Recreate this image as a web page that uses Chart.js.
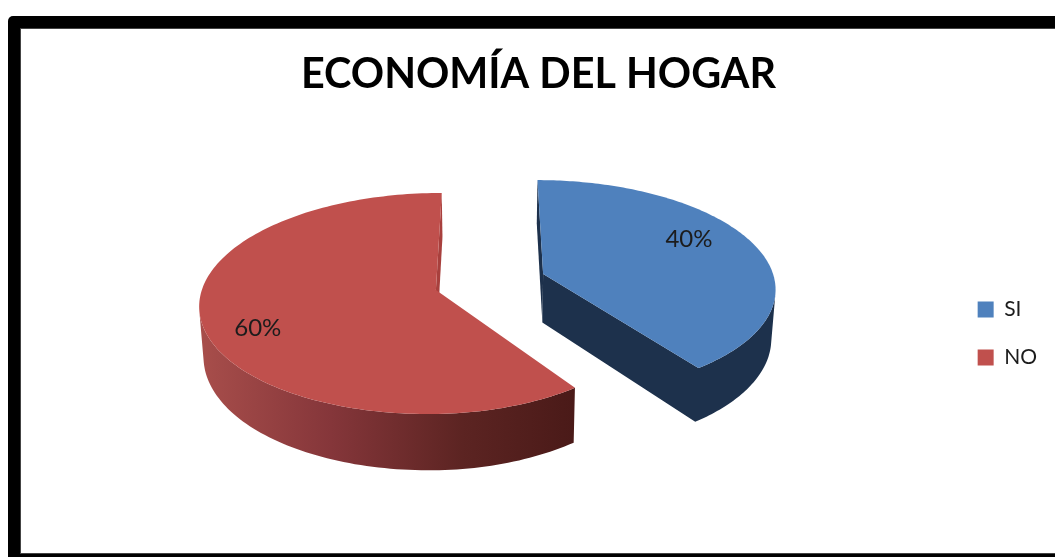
<!DOCTYPE html>
<html>
<head>
<meta charset="utf-8">
<style>html,body{margin:0;padding:0;background:#fff}canvas{display:block;filter:blur(0.45px)}</style>
<script src="https://cdn.jsdelivr.net/npm/chart.js@4"></script>
</head>
<body>
<canvas id="c" width="1055" height="557"></canvas>
<script>
const categories = ['SI', 'NO'];
const seriesValues = [40, 60];
const titleText = 'ECONOMÍA DEL HOGAR';
const topColors = ['#4f81bd', '#c0504d'];

const camera = {cx: 490, cy: 282, a: 232, b: 107, k: 0.12, depth: 49, shrink: 0.985, explode: 0.243, frontSquash: [1, 0.95]};
const project = (X, Y) => {
  const w = 1 - camera.k * Y;
  return {x: camera.cx + camera.a * X / w, y: camera.cy + camera.b * Y / w, w};
};
const lower = p => ({
  x: camera.cx + (p.x - camera.cx) * camera.shrink,
  y: p.y + camera.depth / p.w
});
function outline(arc, idx) {
  const mid = (arc.startAngle + arc.endAngle) / 2;
  const e = camera.explode;
  const ox = Math.cos(mid) * e, oy = Math.sin(mid) * e;
  const pts = [project(ox, oy)];
  const n = 160;
  for (let i = 0; i <= n; i++) {
    const t = arc.startAngle + (arc.endAngle - arc.startAngle) * i / n;
    let c = Math.cos(t);
    if (c > 0) c *= camera.frontSquash[idx];
    pts.push(project(ox + c, oy + Math.sin(t)));
  }
  return {pts, ox, oy, mid};
}
function fillPoly(ctx, pts, fill) {
  ctx.beginPath();
  pts.forEach((p, i) => i ? ctx.lineTo(p.x, p.y) : ctx.moveTo(p.x, p.y));
  ctx.closePath();
  ctx.fillStyle = fill;
  ctx.fill();
}
const pie3d = {
  id: 'pie3d',
  beforeDraw(chart) {
    const ctx = chart.ctx;
    ctx.save();
    ctx.fillStyle = '#fff';
    ctx.fillRect(0, 0, chart.width, chart.height);
    ctx.beginPath();
    ctx.roundRect(8, 16, 1100, 600, 5);
    ctx.fillStyle = '#000';
    ctx.fill();
    ctx.fillStyle = '#444';
    ctx.fillRect(20, 28, 1100, 526);
    ctx.fillStyle = '#fff';
    ctx.fillRect(21, 29, 1100, 524);
    ctx.restore();
  },
  beforeDatasetDraw(chart, args) {
    const ctx = chart.ctx;
    const arcs = args.meta.data;
    ctx.save();
    arcs.forEach((arc, idx) => {
      const {pts} = outline(arc, idx);
      const xs = pts.map(p => p.x);
      const x0 = Math.min(...xs), x1 = Math.max(...xs);
      let rim;
      if (idx === 0) {
        rim = '#1d314c';
      } else {
        rim = ctx.createLinearGradient(x0, 0, x1, 0);
        rim.addColorStop(0, '#a84e4b');
        rim.addColorStop(0.35, '#85363a');
        rim.addColorStop(0.7, '#5c2422');
        rim.addColorStop(1, '#4a1a18');
      }
      const count = pts.length;
      let run = [], runFill = null;
      const flush = () => {
        if (run.length > 1) {
          const poly = run.concat(run.map(lower).reverse());
          fillPoly(ctx, poly, runFill);
        }
        run = [];
        runFill = null;
      };
      for (let i = 0; i < count; i++) {
        const p = pts[i], q = pts[(i + 1) % count];
        const pb = lower(p), qb = lower(q);
        const dx = q.x - p.x, dy = q.y - p.y;
        const ex = (pb.x + qb.x - p.x - q.x) / 2, ey = (pb.y + qb.y - p.y - q.y) / 2;
        if (dy * ex - dx * ey <= 0) { flush(); continue; }
        const isCut = i === 0 || i === count - 1;
        const fill = isCut && idx === 1 ? '#a8403d' : rim;
        if (runFill !== fill) { flush(); runFill = fill; run = [p]; }
        run.push(q);
      }
      flush();
      fillPoly(ctx, pts, topColors[idx]);
    });
    ctx.restore();
    return false;
  },
  afterDatasetsDraw(chart, _a, opts) {
    const ctx = chart.ctx;
    const arcs = chart.getDatasetMeta(0).data;
    ctx.save();
    ctx.font = '24px Lato';
    ctx.fillStyle = '#1c1c1c';
    ctx.textAlign = 'center';
    ctx.textBaseline = 'middle';
    arcs.forEach((arc, idx) => {
      const {ox, oy, mid} = outline(arc, idx);
      const f = opts.labelRadius[idx];
      const p = project(ox + Math.cos(mid) * f, oy + Math.sin(mid) * f);
      ctx.fillText(seriesValues[idx] + '%', p.x, p.y + opts.labelShift[idx]);
    });
    ctx.restore();
  }
};

new Chart(document.getElementById('c'), {
  type: 'pie',
  data: {
    labels: categories,
    datasets: [{
      data: seriesValues,
      backgroundColor: topColors,
      borderWidth: 0,
      offset: 40
    }]
  },
  plugins: [pie3d],
  options: {
    responsive: false,
    animation: false,
    devicePixelRatio: 1,
    layout: {padding: {left: 30, right: 8, top: 0, bottom: -110}},
    plugins: {
      pie3d: {labelRadius: [0.69, 0.77], labelShift: [-13, 11]},
      tooltip: {enabled: false},
      title: {
        display: true,
        text: titleText,
        color: '#000',
        font: {family: 'Lato', size: 41.3, weight: 'bold'},
        padding: {top: 50, bottom: 9}
      },
      legend: {
        position: 'right',
        labels: {
          boxWidth: 16,
          boxHeight: 16,
          padding: 27,
          color: '#1c1c1c',
          font: {family: 'Lato', size: 21}
        }
      }
    }
  }
});
</script>
</body>
</html>
